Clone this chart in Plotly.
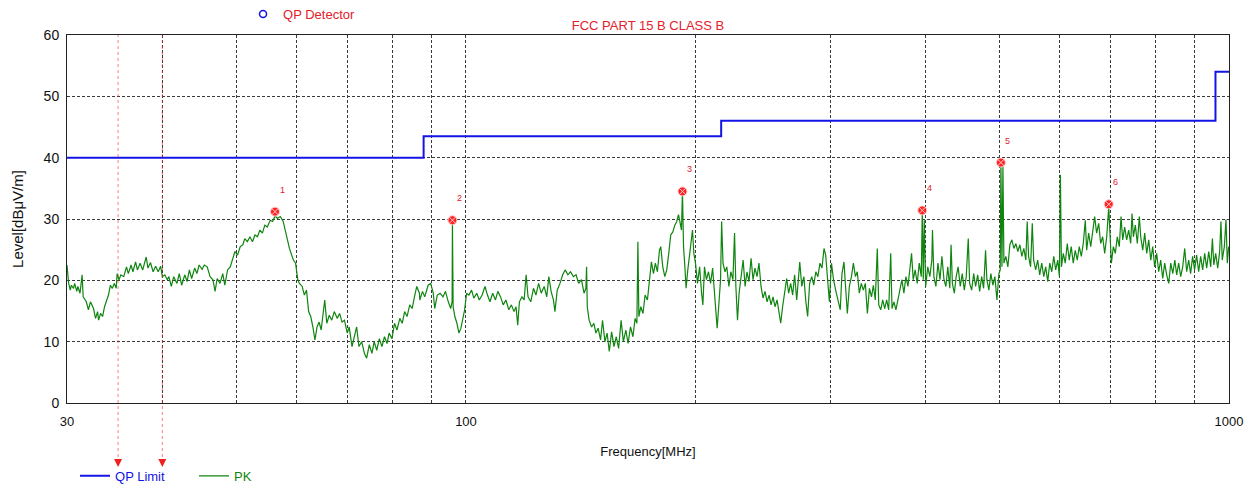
import math
import plotly.graph_objects as go

# ---------------- data ----------------
pk_freq = [
    30.0, 30.15, 30.3, 30.4, 30.6, 30.7, 30.9, 31.0, 31.2, 31.4, 31.5, 31.8, 32.0, 32.2, 32.5, 32.7,
    32.9, 33.0, 33.2, 33.4, 33.6, 33.8, 34.0, 34.2, 34.4, 34.6, 34.8, 34.9, 35.1, 35.3, 35.6, 35.9,
    36.1, 36.4, 36.6, 36.9, 37.1, 37.4, 37.7, 38.1, 38.3, 38.6, 38.9, 39.2, 39.5, 39.8, 40.0, 40.3,
    40.6, 40.8, 41.1, 41.4, 41.8, 42.1, 42.4, 42.8, 43.1, 43.4, 43.7, 44.1, 44.4, 44.7, 45.1, 45.4,
    45.8, 46.2, 46.6, 46.9, 47.2, 47.6, 48.0, 48.3, 48.7, 49.1, 49.4, 49.8, 50.2, 50.6, 51.0, 51.3,
    51.7, 52.1, 52.5, 52.9, 53.3, 53.7, 54.1, 54.5, 54.9, 55.4, 55.8, 56.2, 56.6, 57.1, 57.6, 57.9,
    58.3, 58.7, 59.0, 59.4, 59.8, 60.2, 60.5, 61.0, 61.4, 61.8, 62.2, 62.6, 63.0, 63.4, 63.8, 64.2,
    64.6, 65.0, 65.3, 65.7, 66.2, 66.7, 67.2, 67.8, 68.3, 68.8, 69.3, 69.9, 70.3, 70.9, 71.4, 71.9,
    72.4, 73.0, 73.6, 74.1, 74.7, 75.3, 75.8, 76.4, 77.0, 77.6, 78.2, 78.8, 79.3, 80.0, 80.6, 81.2,
    81.9, 82.5, 83.1, 83.7, 84.4, 85.0, 85.6, 86.2, 86.9,
    87.0, 87.7, 88.3, 89.2, 89.9, 90.6, 91.0, 91.7, 92.5, 93.3, 94.0, 94.8, 95.5, 95.9, 96.0, 96.2,
    96.7, 97.3, 97.9, 98.5, 99.0, 99.6, 100.2, 100.9, 101.7, 102.4, 103.3, 104.1, 105.0, 105.9, 106.7, 107.5,
    108.4, 109.3, 110.1, 111.0, 111.9, 112.8, 113.8, 114.7, 115.6, 116.3, 116.9, 117.5, 118.4, 119.2, 119.9, 120.6,
    121.6, 122.6, 123.5, 124.5, 125.5, 126.6, 127.6, 128.4, 129.3, 130.2, 130.8, 131.7, 132.8, 133.9, 134.9, 136.0,
    137.1, 138.3, 139.4, 140.5, 141.7, 142.8, 143.6, 143.9, 144.2, 145.0, 146.1, 147.1, 148.0, 149.0, 150.1, 151.0,
    152.1, 153.1, 154.1, 155.2, 156.3, 157.4, 158.5, 159.7, 160.8, 162.0, 163.1, 164.3, 165.5, 166.6, 167.5, 168.0,
    168.5, 169.5, 170.6, 171.7, 172.9, 173.9, 175.0, 176.1, 177.1, 178.2, 179.3, 180.0, 181.1, 182.2, 183.3, 184.4,
    185.5, 186.7, 187.8, 188.9, 189.9, 190.9, 191.6, 192.2, 192.8, 193.6, 194.3, 195.3, 196.3, 197.3, 198.1, 198.9,
    199.9, 201.1, 202.4, 203.6, 204.4, 205.4, 206.6, 207.9, 209.2, 210.5, 211.7, 212.7, 213.4, 214.5, 215.6, 216.3,
    217.2, 218.5, 219.7, 221.1, 222.4, 223.8, 224.9, 225.8, 226.9, 228.0, 229.4, 230.8, 232.2, 233.5, 234.9, 236.4,
    237.8, 239.2, 240.7, 242.1, 243.6, 245.1, 246.6, 248.1, 249.6, 251.1, 252.6, 254.1, 255.7, 257.2, 258.5, 260.0,
    261.6, 263.2, 264.8, 266.4, 268.0, 269.6, 271.3, 273.0, 273.8, 275.5, 277.2, 278.9, 280.4, 282.1, 283.9, 285.6,
    287.4, 289.2, 291.0, 292.8, 294.6, 296.1, 297.6, 299.4, 301.3, 303.2, 305.4, 307.5, 309.4,
    311.0, 312.9, 314.8, 316.1, 318.0, 320.0, 321.9, 323.9, 325.7, 327.7, 329.7, 331.7, 333.7, 335.8, 337.9, 340.0,
    341.9, 343.9, 346.0, 347.5, 349.6, 351.7, 353.8, 355.9, 358.1, 360.3, 361.7, 363.8, 366.0, 368.2, 370.5, 372.7,
    374.9, 377.2, 379.5, 381.8, 383.7, 385.6, 387.9, 390.3, 392.7, 395.1, 396.3, 397.5, 398.7, 400.4, 402.9, 405.4,
    407.9, 408.7, 410.4, 412.9, 415.5, 418.0, 420.5, 423.1, 425.6, 428.0, 430.6, 432.3, 434.0, 436.5, 439.0, 441.6,
    444.4, 447.1, 449.9, 452.5, 455.3, 457.2, 460.0, 462.8, 465.5, 468.4, 471.2, 474.1, 476.9, 479.7, 481.6, 484.5,
    487.4, 490.4, 493.4, 496.4, 499.4, 501.4, 502.4, 504.0, 505.5, 507.0, 510.0, 513.1, 516.2, 519.3, 522.5, 525.6,
    528.8, 532.0, 535.2, 538.4, 541.7, 543.9, 546.2, 549.5, 552.3, 554.6, 558.0, 561.4, 564.8, 568.3, 571.8, 575.1,
    578.7, 582.2, 585.7, 589.3, 592.7, 596.4, 599.4, 601.2, 603.1, 606.5, 610.1, 613.8, 617.5, 621.2, 625.0, 628.8,
    632.6, 636.5, 640.4, 644.2, 648.1, 650.8, 654.7, 658.9, 663.0, 666.7, 670.7, 674.9, 678.9, 683.0, 687.2, 691.4,
    695.6, 698.4, 701.2, 705.4, 709.6, 713.8, 718.2, 721.9, 725.6, 729.9, 734.3, 738.8, 743.3, 746.3, 749.3, 753.8,
    758.3, 763.0, 766.1, 770.8, 775.4, 780.1, 784.9, 789.8, 794.4, 799.1, 803.9, 808.8, 813.7, 818.7, 823.6, 828.6,
    833.7, 838.8, 843.9, 849.2, 853.9, 859.1, 864.3, 869.6, 874.9, 880.1, 885.4, 890.6, 896.0, 901.4, 906.9, 912.5,
    918.0, 923.6, 929.3, 934.8, 940.6, 946.3, 951.2, 955.2, 960.6, 966.5, 972.2, 976.0, 979.9, 986.0, 991.0, 994.9,
    999.0,
]
pk_level = [
    22.5, 19.5, 18.4, 19.2, 18.7, 19.5, 18.2, 19.0, 17.9, 20.9, 17.3, 16.5, 15.2, 16.5, 15.4, 13.8,
    14.9, 13.5, 14.6, 14.1, 15.7, 16.5, 17.6, 19.2, 18.7, 19.5, 18.7, 21.1, 20.1, 20.9, 20.6, 22.2,
    21.1, 22.5, 21.4, 23.0, 21.7, 22.8, 21.7, 23.8, 22.0, 22.9, 21.4, 22.3, 21.4, 22.3, 20.6, 20.9,
    20.1, 20.6, 19.0, 20.6, 19.5, 21.1, 19.2, 20.9, 19.8, 21.7, 20.3, 22.0, 21.1, 22.5, 21.8, 22.5,
    22.2, 20.6, 20.1, 18.2, 20.3, 19.5, 21.1, 19.2, 21.7, 22.2, 23.3, 24.7, 24.1, 25.5, 25.8, 26.8,
    26.3, 27.1, 26.3, 27.4, 27.1, 28.2, 27.7, 29.0, 28.7, 29.8, 29.6, 30.5, 30.1, 30.4, 29.6, 28.2,
    26.8, 25.2, 24.4, 23.3, 22.8, 20.1, 19.5, 19.0, 17.6, 18.4, 14.9, 14.1, 12.4, 10.3, 12.4, 13.2,
    11.9, 14.6, 16.8, 13.0, 14.3, 13.5, 14.9, 13.8, 14.6, 13.2, 13.5, 11.4, 12.4, 9.2, 10.8, 12.4,
    9.2, 10.0, 8.1, 7.3, 9.5, 8.1, 10.0, 8.6, 10.5, 9.2, 10.8, 9.7, 11.4, 10.5, 13.0, 11.9,
    13.8, 13.0, 14.9, 14.1, 16.0, 15.4, 17.3, 19.0, 17.9,
    16.8, 18.2, 17.3, 19.2, 19.5, 17.9, 15.4, 17.6, 17.9, 17.3, 18.2, 16.5, 15.4, 16.5, 29.6, 15.7,
    14.1, 13.0, 11.4, 12.2, 13.5, 15.2, 17.9, 17.6, 18.4, 17.1, 17.9, 16.8, 17.6, 19.0, 17.6, 16.5,
    17.9, 16.8, 18.2, 17.3, 16.0, 16.8, 15.2, 16.0, 14.9, 15.7, 12.7, 16.5, 17.3, 16.8, 20.9, 17.3,
    16.5, 18.7, 17.6, 19.5, 17.9, 19.0, 17.3, 20.6, 18.2, 16.8, 14.9, 18.4, 19.5, 20.9, 21.7, 20.9,
    21.4, 20.6, 20.9, 19.5, 20.1, 17.9, 18.7, 22.2, 15.7, 13.5, 12.4, 13.0, 11.4, 12.2, 10.3, 13.5,
    10.0, 11.4, 8.4, 11.6, 9.2, 10.8, 8.9, 13.5, 10.0, 11.9, 9.7, 12.4, 10.8, 13.8, 13.0, 26.3,
    14.1, 15.7, 14.6, 17.6, 16.8, 19.5, 23.0, 21.1, 22.8, 21.4, 24.9, 25.5, 22.2, 20.6, 21.7, 24.4,
    27.4, 27.9, 29.0, 29.6, 30.7, 29.3, 28.2, 34.5, 25.5, 22.2, 18.7, 21.7, 24.4, 26.3, 28.2, 24.4,
    22.8, 19.5, 22.2, 17.9, 16.0, 22.2, 20.1, 21.4, 19.5, 22.0, 18.4, 14.1, 12.2, 16.1, 20.1, 29.6,
    22.8, 21.4, 22.2, 19.0, 21.4, 20.1, 27.7, 19.0, 13.5, 17.9, 20.3, 23.3, 19.0, 21.4, 19.8, 23.6,
    20.1, 22.0, 20.6, 22.8, 19.0, 17.1, 18.2, 16.5, 17.6, 16.0, 17.3, 15.7, 16.8, 14.9, 13.0, 15.7,
    17.9, 20.3, 17.9, 19.5, 17.6, 20.9, 16.8, 22.0, 23.0, 19.0, 20.6, 16.5, 14.1, 19.5, 20.6, 19.2,
    21.4, 20.6, 22.8, 22.0, 25.2, 24.1, 21.1, 16.5, 22.8, 20.1, 18.2, 16.8, 15.2,
    21.1, 23.0, 17.9, 14.6, 19.0, 20.6, 22.8, 20.6, 21.4, 17.9, 19.5, 18.4, 19.5, 14.6, 18.7, 17.3,
    19.2, 16.8, 25.2, 16.0, 15.2, 16.8, 15.4, 16.8, 15.2, 24.4, 15.4, 16.5, 15.2, 16.8, 19.0, 20.1,
    17.9, 20.6, 19.0, 22.2, 24.4, 20.1, 21.7, 19.5, 22.8, 20.6, 31.4, 20.1, 29.8, 19.0, 22.2, 20.6,
    23.3, 28.2, 20.6, 19.0, 22.8, 20.1, 23.9, 20.1, 19.0, 22.2, 18.7, 25.8, 19.5, 17.9, 20.6, 22.2,
    19.0, 21.1, 18.4, 20.6, 26.8, 19.5, 18.4, 21.1, 19.0, 20.9, 18.2, 20.6, 18.7, 24.9, 20.1, 18.4,
    21.1, 19.2, 20.6, 16.8, 21.1, 21.7, 39.2, 22.2, 38.5, 22.8, 23.9, 22.2, 25.8, 26.6, 25.2, 26.0,
    24.7, 25.8, 23.9, 25.2, 23.3, 29.6, 23.9, 22.2, 29.3, 23.3, 21.7, 23.3, 20.9, 22.8, 20.6, 22.2,
    19.8, 22.8, 21.4, 23.9, 21.7, 23.3, 20.6, 37.2, 22.2, 24.4, 22.8, 26.0, 23.3, 25.5, 22.8, 24.9,
    23.3, 25.5, 23.9, 26.0, 29.8, 24.9, 27.7, 25.5, 28.7, 30.4, 27.7, 29.3, 26.0, 27.1, 24.4, 27.1,
    32.0, 26.0, 22.8, 25.5, 24.4, 27.1, 25.5, 30.4, 26.6, 28.7, 26.6, 28.2, 26.0, 30.9, 27.1, 29.0,
    26.0, 30.4, 27.1, 24.9, 27.7, 24.4, 26.6, 23.3, 25.5, 22.2, 24.4, 21.4, 23.3, 20.3, 22.8, 20.9,
    19.5, 22.8, 21.1, 23.3, 20.9, 22.8, 20.6, 22.2, 25.2, 21.4, 23.3, 21.1, 23.9, 21.7, 24.1, 21.4,
    23.9, 21.7, 24.4, 22.0, 24.7, 22.2, 26.8, 22.5, 24.4, 22.0, 24.7, 29.6, 23.3, 25.5, 29.9, 22.8,
    25.5,
]

limit_freq = [30, 88, 216, 960, 1000]
limit_level = [40, 43.5, 46, 54, 54]

marker_freq = [56.2, 96.0, 192.2, 396.3, 502.4, 695.6]
marker_level = [31.2, 29.8, 34.5, 31.4, 39.2, 32.4]
marker_label = ["1", "2", "3", "4", "5", "6"]

cursor_freq = [35, 40]

x_tickvals = [30, 40, 50, 60, 70, 80, 90, 100, 200, 300, 400, 500, 600, 700, 800, 900, 1000]
x_ticktext = ["30", "", "", "", "", "", "", "100", "", "", "", "", "", "", "", "", "1000"]
y_tickvals = [0, 10, 20, 30, 40, 50, 60]

# ---------------- figure ----------------
FONT = "Liberation Sans, Arial, sans-serif"
RED = "#e3202b"
BLUE = "#1414e6"
GREEN = "#0f850f"

fig = go.Figure()

fig.add_trace(go.Scatter(
    x=limit_freq, y=limit_level, mode="lines", line=dict(color=BLUE, width=2, shape="hv"),
    name=f"<span style='color:{BLUE}'>QP Limit</span>", legend="legend", hoverinfo="skip",
))
fig.add_trace(go.Scatter(
    x=pk_freq, y=pk_level, mode="lines", line=dict(color=GREEN, width=1.2),
    name=f"<span style='color:{GREEN}'>PK</span>", legend="legend",
))
fig.add_trace(go.Scatter(
    x=marker_freq, y=marker_level, mode="markers",
    marker=dict(symbol="circle-x", size=9, color="#ff2222", line=dict(color="#ffd0d0", width=1)),
    showlegend=False,
))
fig.add_trace(go.Scatter(
    x=[None], y=[None], mode="markers",
    marker=dict(symbol="circle-open", size=7, color=BLUE, line=dict(width=1.5)),
    name=f"<span style='color:{RED}'>QP Detector</span>", legend="legend2",
))

shapes = []
annotations = []
for f in cursor_freq:
    shapes.append(dict(type="line", xref="x", yref="paper", x0=f, x1=f, y0=-0.163, y1=1,
                       line=dict(color="rgba(240,40,40,0.6)", width=1, dash="dot"), layer="above"))
    annotations.append(dict(xref="x", yref="paper", x=math.log10(f), y=-0.174, text="",
                            showarrow=True, ax=0, ay=-5, arrowhead=2, arrowsize=1.6,
                            arrowwidth=1, arrowcolor="#f02020", standoff=0))

for f, v, t in zip(marker_freq, marker_level, marker_label):
    annotations.append(dict(xref="x", yref="y", x=math.log10(f), y=v, text=t, showarrow=False,
                            xshift=7, yshift=22, font=dict(size=9, color=RED, family=FONT)))

fig.update_layout(
    width=1254, height=487,
    template="none",
    paper_bgcolor="white", plot_bgcolor="white",
    margin=dict(l=67, r=25, t=35, b=84, pad=0, autoexpand=False),
    font=dict(family=FONT, size=13, color="#111111"),
    title=dict(text="FCC PART 15 B CLASS B", x=0.5, xref="paper", xanchor="center",
               y=1 - 25 / 487, yref="container", yanchor="middle",
               font=dict(size=13, color=RED, family=FONT)),
    showlegend=True,
    legend=dict(orientation="h", x=0.0069, xanchor="left", y=-0.198, yanchor="middle",
                entrywidth=74, entrywidthmode="pixels", bgcolor="rgba(0,0,0,0)",
                borderwidth=0, font=dict(size=13, family=FONT)),
    legend2=dict(orientation="h", x=0.1515, xanchor="left", y=1.057, yanchor="middle",
                 bgcolor="rgba(0,0,0,0)", borderwidth=0, font=dict(size=13, family=FONT)),
    shapes=shapes,
    annotations=annotations,
)

fig.update_xaxes(
    type="log", range=[math.log10(30), math.log10(1000)],
    tickmode="array", tickvals=x_tickvals, ticktext=x_ticktext,
    showgrid=True, gridcolor="#3a3a3a", gridwidth=1, griddash="3px,2px",
    showline=True, linecolor="#222222", linewidth=1, mirror=True,
    ticks="", ticklabelstandoff=6, tickfont=dict(size=13, family=FONT, color="#111111"),
    zeroline=False, automargin=False,
    title=dict(text="Frequency[MHz]", standoff=19, font=dict(size=13, family=FONT, color="#111111")),
)
fig.update_yaxes(
    range=[0, 60], tickmode="array", tickvals=y_tickvals,
    showgrid=True, gridcolor="#3a3a3a", gridwidth=1, griddash="3px,2px",
    showline=True, linecolor="#222222", linewidth=1, mirror=True,
    ticks="", ticklabelstandoff=4, tickfont=dict(size=14, family=FONT, color="#111111"),
    zeroline=False, automargin=False,
    title=dict(text="Level[dBμV/m]", standoff=16, font=dict(size=15, family=FONT, color="#111111")),
)

fig.write_html("out.html")
